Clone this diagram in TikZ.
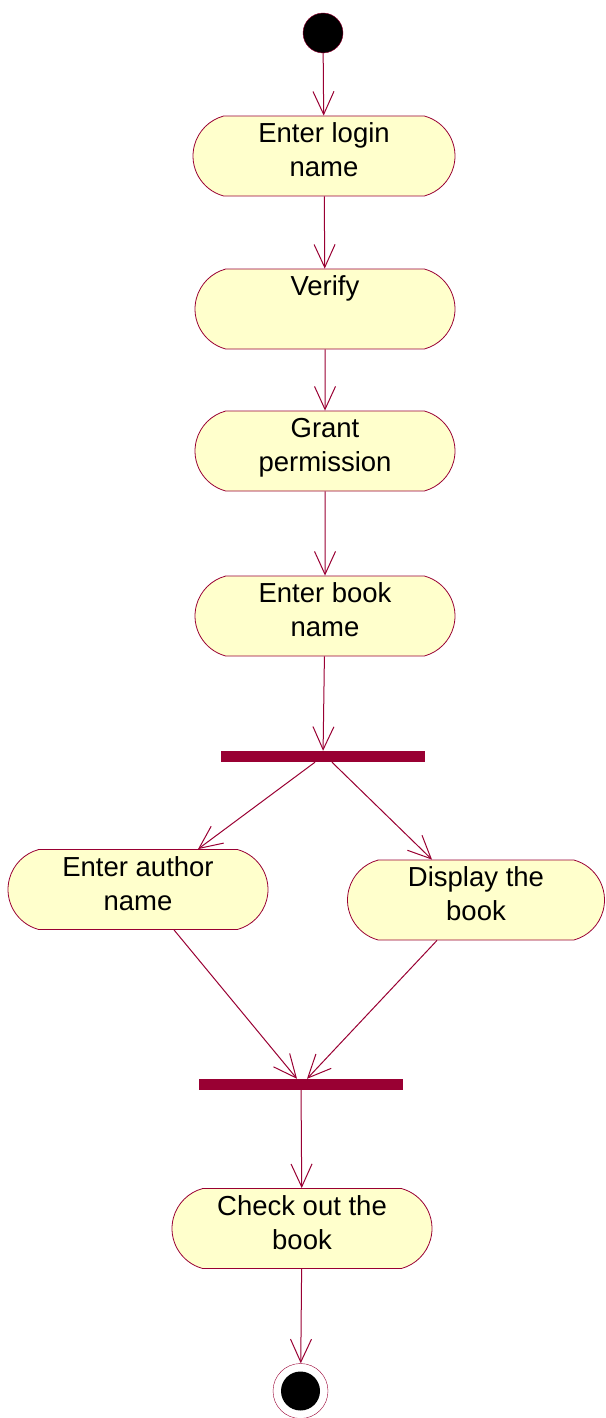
\documentclass[tikz,border=0pt]{standalone}
\usepackage{fontspec}
\setmainfont{Liberation Sans}
\usetikzlibrary{shapes.misc, arrows.meta}
\definecolor{umlred}{RGB}{153,0,51}
\definecolor{umlfill}{RGB}{255,255,204}

\begin{document}
\begin{tikzpicture}[x=1pt, y=-1pt, font=\fontsize{27.5}{34}\selectfont,
        action/.style={rounded rectangle, rounded rectangle arc length=150, draw=umlred, line width=0.8pt, fill=umlfill, minimum width=260pt, minimum height=80pt, align=center, inner sep=0pt, execute at end node={\rule[-12pt]{0pt}{12pt}}},
        bar/.style={fill=umlred, minimum width=204pt, minimum height=11pt, inner sep=0pt},
        flow/.style={draw=umlred, line width=1pt, -{Straight Barb[length=23pt, width=21pt]}}]
        \useasboundingbox (0, 0) rectangle (605, 1418);
        \node[circle, fill=black, draw=umlred, minimum size=40pt, inner sep=0pt] (start) at (323, 33) {};
        \node[action, minimum width=262pt] (login) at (324, 156) {Enter login\\name};
        \node[action] (verify) at (325, 309) {Verify\\\mbox{}};
        \node[action] (grant) at (325, 451) {Grant\\permission};
        \node[action] (book) at (325, 616) {Enter book\\name};
        \node[bar] (fork) at (323, 756.5) {};
        \node[action] (author) at (138, 889.5) {Enter author\\name};
        \node[action, minimum width=257pt] (display) at (476, 900) {Display the\\book};
        \node[bar] (join) at (301, 1084.5) {};
        \node[action] (checkout) at (302, 1228.5) {Check out the\\book};
        \node[circle, draw=umlred, fill=white, minimum size=55pt, inner sep=0pt] (finish) at (300.5, 1391) {};
        \node[circle, fill=black, minimum size=39pt, inner sep=0pt] (finishdot) at (finish) {};
        \draw[flow] (start) -- (login);
        \draw[flow] (login) -- (verify);
        \draw[flow] (verify) -- (grant);
        \draw[flow] (grant) -- (book);
        \draw[flow] (book) -- (fork);
        \draw[flow] ([xshift=-8pt]fork.south) -- ([xshift=60pt]author.north);
        \draw[flow] ([xshift=9pt]fork.south) -- ([xshift=-44pt]display.north);
        \draw[flow] ([xshift=36pt]author.south) -- ([xshift=-4pt]join.north);
        \draw[flow] ([xshift=-39pt]display.south) -- ([xshift=6pt]join.north);
        \draw[flow] (join) -- (checkout);
        \draw[flow] (checkout) -- (finish);
    \end{tikzpicture}
\end{document}
